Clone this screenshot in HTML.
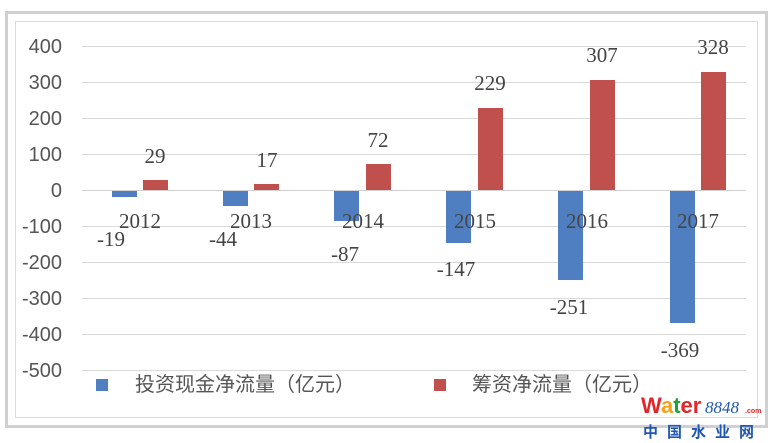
<!DOCTYPE html>
<html><head><meta charset="utf-8"><style>
html,body{margin:0;padding:0;background:#fff;}
svg{display:block;}
</style></head><body>
<svg width="771" height="443" viewBox="0 0 771 443" xmlns="http://www.w3.org/2000/svg" font-family="Liberation Serif, serif">
<rect x="0" y="0" width="771" height="443" fill="#fff"/>
<rect x="6.5" y="12.5" width="760" height="414" fill="#fff" stroke="#d0d0d0" stroke-width="3"/>
<rect x="15.5" y="21.5" width="742" height="396" fill="#fff" stroke="#dcdcdc" stroke-width="1"/>
<g stroke="#d9d9d9" stroke-width="1">
<line x1="82" y1="46.5" x2="746" y2="46.5"/>
<line x1="82" y1="82.5" x2="746" y2="82.5"/>
<line x1="82" y1="118.5" x2="746" y2="118.5"/>
<line x1="82" y1="154.5" x2="746" y2="154.5"/>
<line x1="82" y1="226.5" x2="746" y2="226.5"/>
<line x1="82" y1="262.5" x2="746" y2="262.5"/>
<line x1="82" y1="298.5" x2="746" y2="298.5"/>
<line x1="82" y1="334.5" x2="746" y2="334.5"/>
<line x1="82" y1="370.5" x2="746" y2="370.5"/>
</g>
<g font-size="20" fill="#555" text-anchor="end" font-family="Liberation Sans, sans-serif">
<text x="62" y="53">400</text><text x="62" y="89">300</text><text x="62" y="125">200</text>
<text x="62" y="161">100</text><text x="62" y="197">0</text><text x="62" y="233">-100</text>
<text x="62" y="269">-200</text><text x="62" y="305">-300</text><text x="62" y="341">-400</text>
<text x="62" y="377">-500</text>
</g>
<g fill="#4f7fc0">
<rect x="112" y="190" width="25" height="7"/>
<rect x="223" y="190" width="25" height="16"/>
<rect x="334" y="190" width="25" height="31"/>
<rect x="446" y="190" width="25" height="53"/>
<rect x="558" y="190" width="25" height="90"/>
<rect x="670" y="190" width="25" height="133"/>
</g>
<g fill="#c0504d">
<rect x="143" y="180" width="25" height="10"/>
<rect x="254" y="184" width="25" height="6"/>
<rect x="366" y="164" width="25" height="26"/>
<rect x="478" y="108" width="25" height="82"/>
<rect x="590" y="80" width="25" height="110"/>
<rect x="701" y="72" width="25" height="118"/>
</g>
<line x1="82" y1="190.5" x2="746" y2="190.5" stroke="#d0d0d0"/>
<g font-size="21" fill="#444" text-anchor="middle">
<text x="140" y="228">2012</text><text x="251" y="228">2013</text><text x="363" y="228">2014</text>
<text x="475" y="228">2015</text><text x="587" y="228">2016</text><text x="698" y="228">2017</text>
<text x="111" y="246">-19</text><text x="223" y="246">-44</text><text x="345" y="261">-87</text>
<text x="456" y="276">-147</text><text x="569" y="314">-251</text><text x="680" y="357">-369</text>
<text x="155" y="163">29</text><text x="267" y="167">17</text><text x="378" y="147">72</text>
<text x="490" y="90">229</text><text x="602" y="62">307</text><text x="713" y="54">328</text>
</g>
<rect x="96" y="379" width="12" height="12" fill="#4f7fc0"/>
<rect x="434" y="379" width="12" height="12" fill="#c0504d"/>
<g font-size="20" fill="#555" font-family="Liberation Sans, Noto Sans CJK SC, sans-serif">
<text x="135" y="391">投资现金净流量（亿元）</text>
<text x="472" y="391">筹资净流量（亿元）</text>
</g>
<g font-family="Liberation Sans, sans-serif" font-weight="bold">
<text x="641" y="413" font-size="22"><tspan fill="#e0262a">W</tspan><tspan fill="#f5a01a">a</tspan><tspan fill="#1fa33a">t</tspan><tspan fill="#e0262a">er</tspan></text>
<text x="705" y="413" font-size="17" fill="#1f56b3" font-style="italic" font-weight="normal" font-family="Liberation Serif, serif">8848</text>
<text x="745" y="413" font-size="7" fill="#e0262a">.com</text>
<text x="643" y="437" font-size="15" fill="#1f56b3" font-family="Liberation Sans, Noto Sans CJK SC, sans-serif" letter-spacing="9">中国水业网</text>
</g>
</svg>
</body></html>
